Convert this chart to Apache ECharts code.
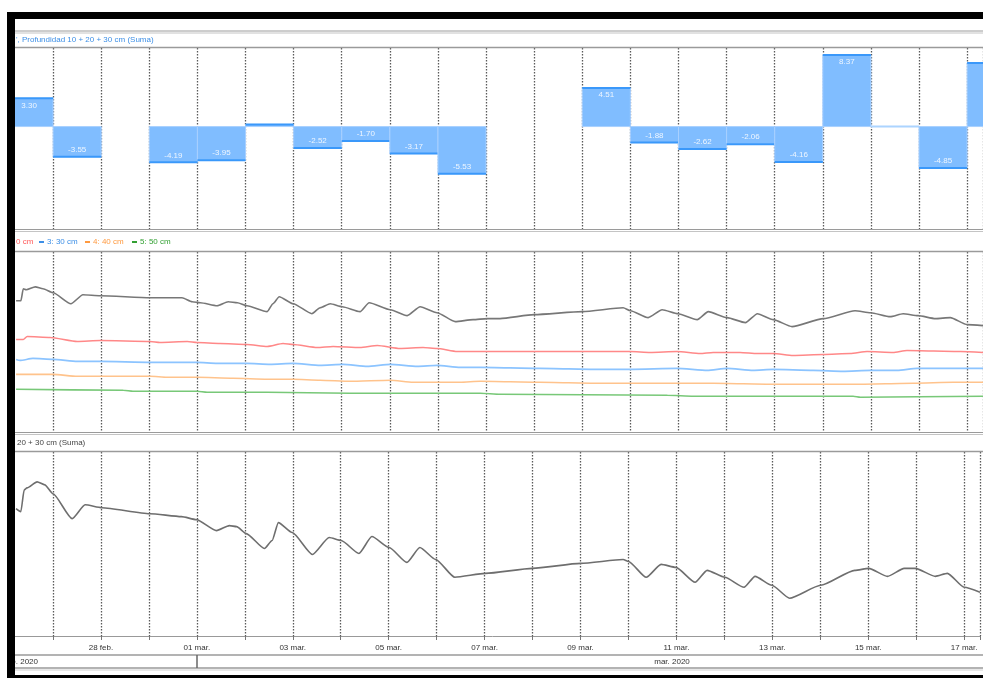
<!DOCTYPE html>
<html><head><meta charset="utf-8">
<script src="https://cdn.jsdelivr.net/npm/echarts@6/dist/echarts.min.js"></script>
<style>html,body{margin:0;padding:0;background:#fff}#c{width:983px;height:678px}</style>
</head><body><div id="c"></div>
<script>
// day index: 0 = 27 feb 2020 00:00
var dayLabels = ['26 feb.','27 feb.','28 feb.','29 feb.','01 mar.','02 mar.','03 mar.','04 mar.','05 mar.','06 mar.','07 mar.','08 mar.','09 mar.','10 mar.','11 mar.','12 mar.','13 mar.','14 mar.','15 mar.','16 mar.','17 mar.'];
var monthLabels = ['feb. 2020', 'mar. 2020'];

// Panel 1: daily difference, Profundidad 10 + 20 + 30 cm (Suma)
var barDays   = [-1, 0, 1, 2, 3, 4, 5, 6, 7, 8, 9, 10, 11, 12, 13, 14, 15, 16, 17, 18, 19];
var barValues = [3.30, -3.55, null, -4.19, -3.95, 0.25, -2.52, -1.70, -3.17, -5.53, null, null, 4.51, -1.88, -2.62, -2.06, -4.16, 8.37, 0.00, -4.85, 7.45];

// Panel 2: per depth
var depth10 = [[-0.77,43.75],[-0.67,43.75],[-0.62,47.73],[-0.56,47.40],[-0.37,48.39],[-0.21,47.73],[0,46.40],[0.37,42.76],[0.62,45.74],[0.98,45.41],[2.02,44.75],[2.68,44.75],[2.89,43.42],[3.06,43.09],[3.41,42.09],[3.64,43.42],[3.83,43.09],[4.03,42.09],[4.45,40.11],[4.57,42.76],[4.70,45.08],[4.99,42.76],[5.38,39.44],[5.55,41.43],[5.76,42.76],[6.01,41.76],[6.38,40.11],[6.57,43.09],[7.01,40.77],[7.36,38.78],[7.63,41.76],[7.98,39.77],[8.36,36.79],[8.73,37.45],[9.02,37.79],[9.29,37.79],[10.00,39.11],[11.00,40.11],[11.85,41.43],[12.00,40.44],[12.37,38.12],[12.66,40.77],[12.99,39.44],[13.39,37.45],[13.62,40.11],[14.01,38.12],[14.39,36.46],[14.64,39.44],[14.97,37.45],[15.36,35.13],[16.01,37.79],[16.67,40.44],[16.99,39.77],[17.40,38.45],[17.67,39.44],[17.98,38.78],[18.34,37.79],[18.65,38.12],[19.00,35.80],[19.33,35.47]];
var depth20 = [[-0.77,30.83],[-0.62,30.83],[-0.54,31.82],[-0.06,31.49],[0.50,30.16],[0.98,30.49],[2.02,30.16],[2.22,29.83],[2.79,30.16],[2.99,29.83],[3.47,29.50],[4.03,29.17],[4.45,28.51],[4.78,29.50],[4.99,29.17],[5.49,28.17],[5.82,28.51],[6.38,28.17],[6.74,28.84],[7.21,27.84],[7.69,28.17],[7.98,27.84],[8.40,26.85],[8.88,26.85],[12.00,26.85],[12.41,26.52],[12.97,26.85],[13.45,26.18],[13.72,26.52],[14.28,26.52],[14.64,26.18],[14.97,26.18],[15.38,25.52],[16.01,25.85],[16.57,26.18],[16.92,26.85],[17.46,26.52],[17.75,27.18],[18.86,26.85],[19.33,26.52]];
var depth30 = [[-0.77,24.20],[-0.69,23.86],[-0.42,24.53],[0,24.20],[0.50,23.53],[0.98,23.53],[2.02,23.20],[2.37,23.20],[2.99,23.20],[3.41,22.87],[4.03,22.87],[4.51,22.54],[4.99,22.87],[5.55,22.21],[6.03,22.54],[6.53,21.88],[7.01,22.54],[7.57,21.88],[7.98,22.21],[8.46,21.54],[8.88,21.54],[10.12,21.21],[11.31,20.88],[12.00,20.88],[12.97,21.21],[13.60,20.55],[14.01,21.21],[14.55,20.55],[14.97,20.88],[15.80,20.55],[16.42,20.22],[16.99,20.55],[17.55,20.55],[17.96,21.21],[18.71,21.21],[19.33,21.21]];
var depth40 = [[-0.77,19.22],[0,19.22],[0.50,18.56],[0.98,18.56],[2.02,18.56],[2.37,18.23],[2.99,18.23],[3.74,17.90],[4.45,17.57],[4.99,17.57],[5.55,17.24],[6.17,16.90],[7.01,17.24],[7.48,16.57],[8.46,16.57],[8.88,16.90],[10.12,16.57],[11.31,16.24],[12.97,16.24],[13.72,16.24],[14.97,15.91],[15.95,15.91],[16.72,15.91],[17.88,16.24],[18.71,16.57],[19.33,16.57]];
var depth50 = [[-0.77,14.25],[1.46,13.92],[1.66,13.59],[2.99,13.59],[3.20,13.26],[4.45,13.26],[6.17,12.93],[8.88,12.93],[9.29,12.60],[12.77,12.26],[13.31,11.93],[16.63,11.93],[16.78,11.60],[19.33,11.93]];

// Panel 3: Profundidad 10 + 20 + 30 cm (Suma)
var sumValues = [[-0.77,98.29],[-0.67,97.67],[-0.60,102.19],[-0.54,102.60],[-0.33,103.84],[-0.17,103.22],[0,101.37],[0.40,96.24],[0.67,99.11],[1.02,98.50],[2.02,97.26],[2.68,96.65],[2.99,96.03],[3.41,93.77],[3.68,94.80],[3.83,94.59],[4.03,93.15],[4.41,90.07],[4.57,91.72],[4.70,95.41],[4.99,93.36],[5.41,88.84],[5.76,92.33],[6.01,91.72],[6.38,89.05],[6.65,92.54],[7.01,90.28],[7.38,87.20],[7.65,90.28],[7.98,87.81],[8.38,84.12],[9.02,84.94],[10.00,85.97],[11.00,86.99],[11.89,87.81],[12.00,87.40],[12.37,84.12],[12.68,86.79],[12.99,86.17],[13.39,83.09],[13.64,85.56],[14.01,84.12],[14.41,82.06],[14.64,84.32],[14.99,82.47],[15.36,79.80],[16.01,82.47],[16.72,85.56],[17.01,85.97],[17.40,84.32],[17.75,85.97],[17.98,85.97],[18.40,84.32],[18.65,84.94],[19.00,82.06],[19.33,81.04]];

var FONT = 'Liberation Sans';
var barData = [];
for (var i = 0; i < barDays.length; i++) {
  if (barValues[i] !== null) barData.push([barDays[i], barValues[i]]);
}

function renderBar(params, api) {
  var d = api.value(0), v = api.value(1);
  var p0 = api.coord([d, 0]), p1 = api.coord([d + 1, v]);
  var x = p0[0], w = p1[0] - p0[0];
  var yTop = Math.min(p0[1], p1[1]), h = Math.abs(p1[1] - p0[1]);
  var ch = [];
  if (Math.abs(v) < 0.01) {
    ch.push({type: 'line', shape: {x1: x, y1: p0[1], x2: x + w, y2: p0[1]}, style: {stroke: '#acd4ff', lineWidth: 2}});
  } else {
    ch.push({type: 'rect', shape: {x: x, y: yTop, width: w, height: h}, style: {fill: '#80bdff', stroke: '#a8d0ff', lineWidth: 1}});
    ch.push({type: 'line', shape: {x1: x, y1: p1[1], x2: x + w, y2: p1[1]}, style: {stroke: '#3a98fa', lineWidth: 2}});
    if (Math.abs(v) >= 1) {
      var cx = api.coord([d + 0.5, 0])[0];
      ch.push({type: 'text', style: {text: v.toFixed(2), x: cx, y: v > 0 ? p1[1] + 7 : p1[1] - 7, align: 'center', verticalAlign: 'middle', fill: '#eef6ff', font: '8px "Liberation Sans"'}});
    }
  }
  return {type: 'group', children: ch};
}

function xAxisCfg(gi, show) {
  return {
    type: 'value', gridIndex: gi, min: -1, max: 19.33, interval: 1,
    axisLine: {show: show, lineStyle: {color: '#999', width: 1}},
    axisTick: {show: show, length: 4, lineStyle: {color: '#777'}},
    axisLabel: {show: show, color: '#333', fontSize: 8, fontFamily: FONT, margin: 8,
      formatter: function (v) {
        var r = Math.round(v);
        if (Math.abs(v - r) > 1e-6) return '';
        if (r < 1 || r % 2 !== 1) return '';
        return dayLabels[r + 1];
      }},
    splitLine: {show: true, lineStyle: {color: '#5a5a5a', type: [1.5, 1.5], width: 1.3}}
  };
}

function hline(y, color, w) {
  return {type: 'line', z: 100, silent: true, shape: {x1: 15, y1: y, x2: 983, y2: y}, style: {stroke: color, lineWidth: w}};
}
function txt(x, y, s, color) {
  return {type: 'text', z: 100, silent: true, x: x, y: y, style: {text: s, fill: color, font: '8px "Liberation Sans"', verticalAlign: 'middle'}};
}
function dash(x, y, color) {
  return {type: 'rect', z: 100, silent: true, shape: {x: x, y: y - 1, width: 5, height: 2}, style: {fill: color}};
}

var graphics = [
  hline(31, '#9a9a9a', 1), hline(33, '#c4c4c4', 1), hline(47.5, '#9a9a9a', 1.5),
  hline(229.5, '#9a9a9a', 1), hline(231.5, '#c4c4c4', 1), hline(251.5, '#9a9a9a', 1.5),
  hline(432.5, '#9a9a9a', 1), hline(434.5, '#c4c4c4', 1), hline(451.5, '#9a9a9a', 1.5),
  hline(655, '#9a9a9a', 1.5), hline(668, '#9a9a9a', 1.5), hline(670, '#d0d0d0', 1),
  {type: 'line', z: 100, silent: true, shape: {x1: 197, y1: 655, x2: 197, y2: 668}, style: {stroke: '#666', lineWidth: 1.5}},
  txt(16, 39.5, "', Profundidad 10 + 20 + 30 cm (Suma)", '#3d8fe6'),
  txt(16, 242, '0 cm', '#ff5a5a'),
  dash(39, 242, '#3d8fe6'), txt(47, 242, '3: 30 cm', '#3d8fe6'),
  dash(85, 242, '#ff9a40'), txt(93, 242, '4: 40 cm', '#ff9a40'),
  dash(132, 242, '#33a033'), txt(140, 242, '5: 50 cm', '#33a033'),
  txt(17, 443, '20 + 30 cm (Suma)', '#444'),
  {type: 'text', z: 100, silent: true, x: 38, y: 662, style: {text: monthLabels[0], fill: '#333', font: '8px "Liberation Sans"', align: 'right', verticalAlign: 'middle'}},
  {type: 'text', z: 100, silent: true, x: 672, y: 662, style: {text: monthLabels[1], fill: '#333', font: '8px "Liberation Sans"', align: 'center', verticalAlign: 'middle'}},
  // frame
  {type: 'rect', z: 110, silent: true, shape: {x: 0, y: 0, width: 983, height: 12}, style: {fill: '#fff'}},
  {type: 'rect', z: 110, silent: true, shape: {x: 0, y: 0, width: 7, height: 678}, style: {fill: '#fff'}},
  {type: 'rect', z: 111, silent: true, shape: {x: 7, y: 12, width: 976, height: 7}, style: {fill: '#000'}},
  {type: 'rect', z: 111, silent: true, shape: {x: 7, y: 12, width: 8, height: 666}, style: {fill: '#000'}},
  {type: 'rect', z: 111, silent: true, shape: {x: 7, y: 675, width: 976, height: 3}, style: {fill: '#000'}}
];

function lineSeries(name, data, color, xi) {
  return {type: 'line', name: name, xAxisIndex: xi, yAxisIndex: xi, data: data, symbol: 'none', smooth: 0.2, smoothMonotone: 'x',
    lineStyle: {color: color, width: 1.6}, itemStyle: {color: color}, animation: false};
}

var chart = echarts.init(document.getElementById('c'));
chart.setOption({
  animation: false,
  backgroundColor: '#fff',
  grid: [
    {left: 5, right: 0, top: 48, height: 181},
    {left: 5, right: 0, top: 252, height: 180},
    {left: 5, right: 0, top: 452, height: 184}
  ],
  xAxis: [xAxisCfg(0, false), xAxisCfg(1, false), xAxisCfg(2, true)],
  yAxis: [
    {type: 'value', gridIndex: 0, min: -12, max: 9.2, show: false},
    {type: 'value', gridIndex: 1, min: 0, max: 60, show: false},
    {type: 'value', gridIndex: 2, min: 72, max: 110, show: false}
  ],
  series: [
    {type: 'custom', name: 'Profundidad 10 + 20 + 30 cm (Suma)', xAxisIndex: 0, yAxisIndex: 0, data: barData, renderItem: renderBar, clip: true, encode: {x: 0, y: 1}},
    lineSeries('5: 50 cm', depth50, '#78c878', 1),
    lineSeries('4: 40 cm', depth40, '#ffc38c', 1),
    lineSeries('3: 30 cm', depth30, '#8cc4ff', 1),
    lineSeries('2: 20 cm', depth20, '#ff8888', 1),
    lineSeries('1: 10 cm', depth10, '#777777', 1),
    lineSeries('Profundidad 10 + 20 + 30 cm (Suma)', sumValues, '#6e6e6e', 2)
  ],
  graphic: graphics
});
</script>
</body></html>
